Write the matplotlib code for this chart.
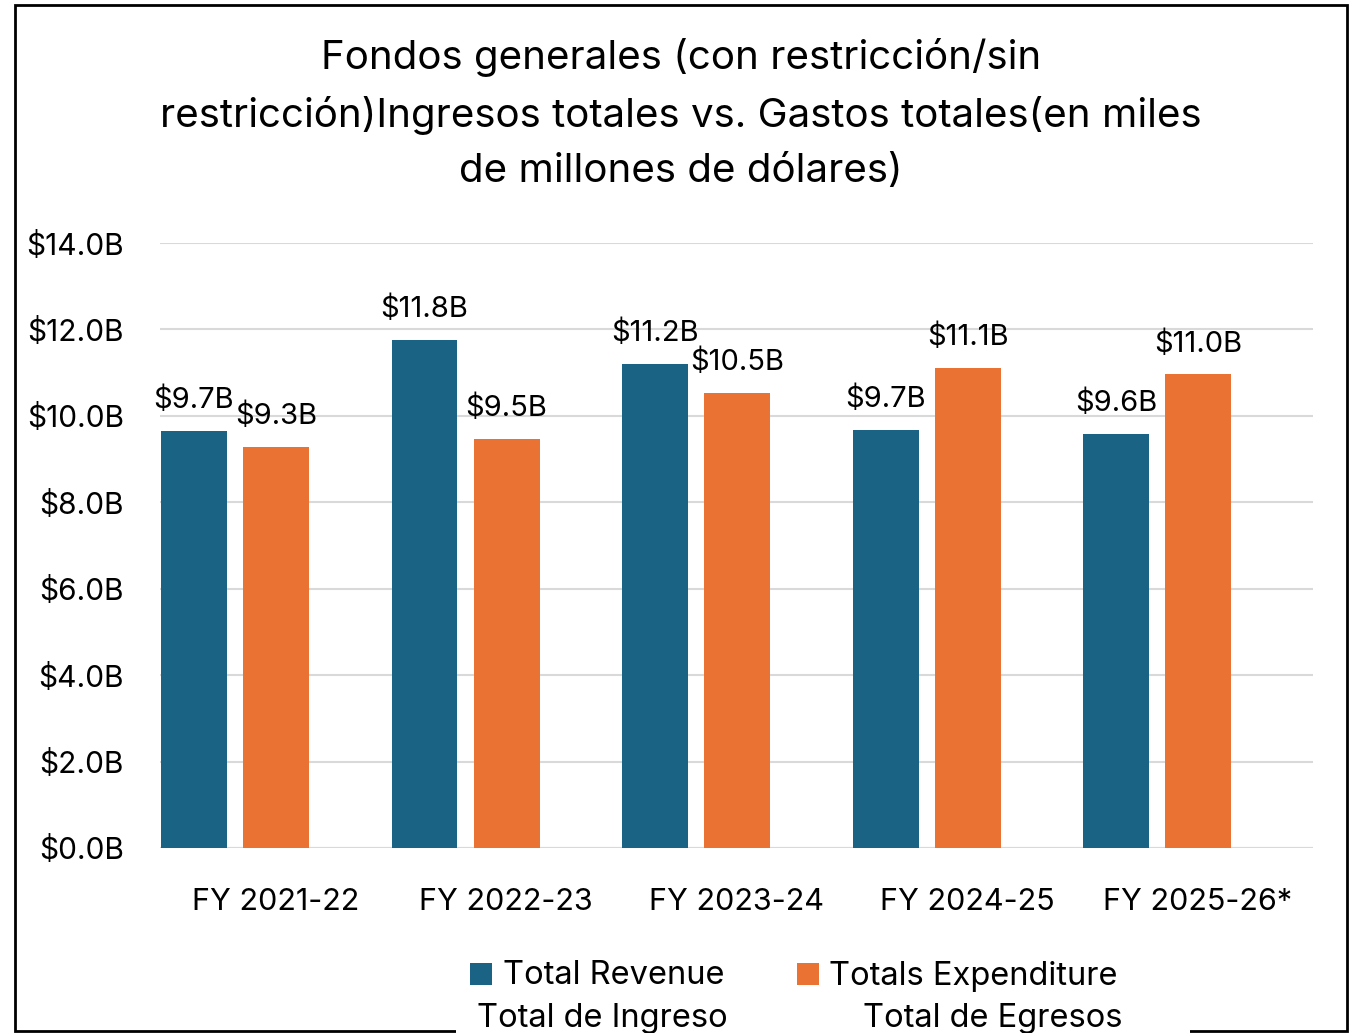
import matplotlib
matplotlib.use("Agg")
import matplotlib.pyplot as plt
from matplotlib.patches import Rectangle
import numpy as np

plt.rcParams['font.family'] = ['Inter', 'DejaVu Sans']

categories = ["FY 2021-22", "FY 2022-23", "FY 2023-24", "FY 2024-25", "FY 2025-26*"]
revenue = [9.66, 11.76, 11.20, 9.68, 9.58]
expenditure = [9.28, 9.47, 10.53, 11.11, 10.96]
yticks = [0, 2, 4, 6, 8, 10, 12, 14]
title = "Fondos generales (con restricción/sin\nrestricción)Ingresos totales vs. Gastos totales(en miles\nde millones de dólares)"
legend_lines = [("Total Revenue", "Total de Ingreso"), ("Totals Expenditure", "Total de Egresos")]

BLUE = "#1A6384"
ORANGE = "#EA7334"
W, H = 1357, 1033
fig = plt.figure(figsize=(W / 100, H / 100), dpi=100)

ax = fig.add_axes([160 / W, (H - 848) / H, (1313 - 160) / W, (848 - 243) / H])
x = np.arange(len(categories))
bw = 0.286
b1 = ax.bar(x - 0.353, revenue, width=bw, color=BLUE, zorder=3)
b2 = ax.bar(x + 0.003, expenditure, width=bw, color=ORANGE, zorder=3)
for bars, vals in ((b1, revenue), (b2, expenditure)):
    for r, v in zip(bars, vals):
        ax.annotate(f"${v:.1f}B", (r.get_x() + r.get_width() / 2, v), xytext=(0, 22),
                    textcoords="offset points", ha="center", va="center", fontsize=21)

ax.set_xlim(-0.5, len(categories) - 0.5)
ax.set_ylim(0, 14)
ax.set_yticks(yticks)
ax.set_yticklabels([f"${t:.1f}B" for t in yticks], fontsize=21.5)
ax.set_xticks(x)
ax.set_xticklabels(categories, fontsize=22)
ax.tick_params(axis='y', length=0, pad=26)
ax.tick_params(axis='x', length=0, pad=29)
ax.grid(axis='y', color="#D9D9D9", linewidth=1.5, zorder=0)
for s in ax.spines.values():
    s.set_visible(False)
ax.axhline(0, color="#D9D9D9", linewidth=1.5, zorder=2)

fig.text(681 / W, 1 - 114 / H, title, ha="center", va="center", fontsize=29, linespacing=1.62)

# border
fig.add_artist(Rectangle((15 / W, 1 - 1031 / H), (1347 - 15) / W, (1031 - 5) / H,
                         transform=fig.transFigure, fill=False, edgecolor="black", linewidth=2))

# legend
fig.add_artist(Rectangle((456 / W, 0), (1190 - 456) / W, 60 / H, transform=fig.transFigure,
                         facecolor="white", edgecolor="none", zorder=5))
for (hx, t1x, t2x), col, (l1, l2) in (((470, 503, 477), BLUE, legend_lines[0]),
                                      ((797, 829, 863), ORANGE, legend_lines[1])):
    fig.add_artist(Rectangle((hx / W, 1 - 985 / H), 22 / W, 22 / H, transform=fig.transFigure,
                             facecolor=col, edgecolor="none", zorder=6))
    fig.text(t1x / W, 1 - 976 / H, l1, ha="left", va="center", fontsize=23.5, zorder=6)
    fig.text(t2x / W, 1 - 1019 / H, l2, ha="left", va="center", fontsize=23.5, zorder=6)

fig.savefig("out.png", dpi=100)
